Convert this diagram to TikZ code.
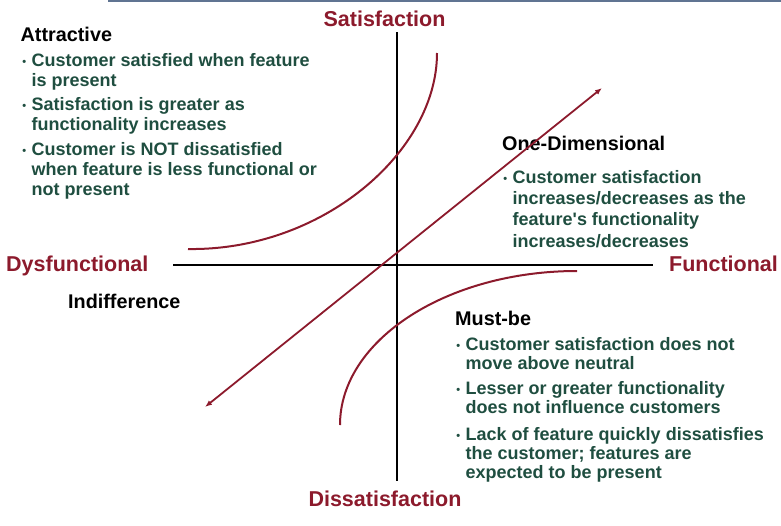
\documentclass[tikz,border=0pt]{standalone}
\usepackage{fontspec}
\setmainfont{Liberation Sans}
\usetikzlibrary{arrows.meta}

\definecolor{kanored}{RGB}{140,26,44}
\definecolor{kanogreen}{RGB}{31,78,64}
\definecolor{kanoslate}{RGB}{96,116,146}

% 行首小圆点（挂在文字左边）
\newcommand{\kbul}{\llap{\raisebox{1pt}{\fontsize{11}{11}\selectfont\textbullet}\hspace{5.5pt}}}

\begin{document}
\begin{tikzpicture}[x=1pt, y=-1pt, line join=round,
  axis/.style={line width=2pt, black},
  kcurve/.style={line width=2pt, kanored},
  axlabel/.style={inner sep=0pt, kanored, font=\fontsize{21.5}{24}\selectfont\bfseries},
  quad/.style={inner sep=0pt, black, font=\fontsize{19.8}{22}\selectfont\bfseries},
  point/.style={inner sep=0pt, align=left, kanogreen, font=\fontsize{18}{20}\selectfont\bfseries}]

  %% ════ 顶部细条 ════
  \draw[kanoslate, line width=2pt] (108,0.8) -- (781,0.8);

  %% ════ 坐标轴标签 ════
  \node[axlabel, anchor=base] (sat) at (384.5,26) {Satisfaction};
  \node[axlabel, anchor=base west] (dysf) at (6,271.5) {Dysfunctional};
  \node[axlabel, anchor=base west] (func) at (669,271) {Functional};
  \node[axlabel, anchor=base] (dissat) at (385,506) {Dissatisfaction};

  %% ════ 四类说明文字 ════
  %% ⚠ 多行节点的 base 是最后一行的基线
  \node[quad, anchor=base west] (attr) at (20.5,41) {Attractive};
  \node[point, anchor=base west] (attr1) at (31.5,86) {\kbul Customer satisfied when feature\\is present};
  \node[point, anchor=base west] (attr2) at (31.5,130) {\kbul Satisfaction is greater as\\functionality increases};
  \node[point, anchor=base west] (attr3) at (31.5,195) {\kbul Customer is NOT dissatisfied\\when feature is less functional or\\not present};

  \node[quad, anchor=base west] (onedim) at (502,150) {One-Dimensional};
  \node[point, anchor=base west, font=\fontsize{18}{21.3}\selectfont\bfseries] (onedim1) at (512.5,247)
    {\kbul Customer satisfaction\\increases/decreases as the\\feature\textquotesingle s functionality\\increases/decreases};

  \node[quad, anchor=base west] (indiff) at (68,308) {Indifference};

  \node[quad, anchor=base west] (mustbe) at (455,325) {Must-be};
  \node[point, anchor=base west, font=\fontsize{18}{19}\selectfont\bfseries] (must1) at (465.5,369) {\kbul Customer satisfaction does not\\move above neutral};
  \node[point, anchor=base west, font=\fontsize{18}{19}\selectfont\bfseries] (must2) at (465.5,413) {\kbul Lesser or greater functionality\\does not influence customers};
  \node[point, anchor=base west, font=\fontsize{18}{19}\selectfont\bfseries] (must3) at (465.5,478) {\kbul Lack of feature quickly dissatisfies\\the customer; features are\\expected to be present};

  %% ════ 轴 ════
  \coordinate (vtop) at (397,32);
  \coordinate (vbot) at (397,481);
  \coordinate (hleft) at (173,265);
  \coordinate (hright) at (653,265);
  \draw[axis] (vtop) -- (vbot);
  \draw[axis] (hleft) -- (hright);

  %% ════ 三条曲线 ════
  \coordinate (attrlo) at (188,249);
  \coordinate (attrhi) at (437,53);
  \draw[kcurve] (attrlo) .. controls (322,251) and (437,152) .. (attrhi);

  \coordinate (mustlo) at (340,425);
  \coordinate (musthi) at (577,271);
  \draw[kcurve] (mustlo) .. controls (340,340) and (447,271) .. (musthi);

  \coordinate (odlo) at (205,407);
  \coordinate (odhi) at (602,88);
  \draw[kcurve, line width=1.8pt, {Latex[length=7,width=5.5]}-{Latex[length=7,width=5.5]}] (odlo) -- (odhi);

  % 钉死画布
  \pgfresetboundingbox
  \path[use as bounding box] (0,0) rectangle (781,525);
\end{tikzpicture}
\end{document}
